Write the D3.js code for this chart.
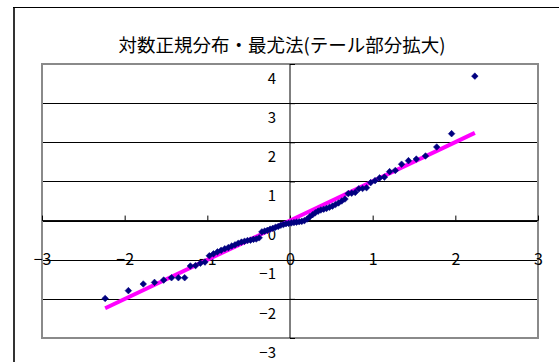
<!DOCTYPE html>
<html>
<head>
<meta charset="utf-8">
<script src="https://cdn.jsdelivr.net/npm/d3@7"></script>
<style>
  html, body { margin: 0; padding: 0; background: #fff; }
  svg { display: block; }
  text { font-family: "Noto Sans CJK JP", "Noto Sans", sans-serif; fill: #000; }
</style>
</head>
<body>
<svg id="chart" width="559" height="362"></svg>
<script>
// Normal quantiles (theoretical) for each ordered observation
const quantileX = [
  -2.236, -1.955, -1.775, -1.639, -1.528, -1.433, -1.350, -1.274, -1.205, -1.142,
  -1.084, -1.029, -0.976, -0.926, -0.878, -0.833, -0.789, -0.746, -0.705, -0.665,
  -0.626, -0.587, -0.550, -0.514, -0.478, -0.442, -0.408, -0.373, -0.340, -0.306,
  -0.273, -0.240, -0.208, -0.175, -0.143, -0.111, -0.079, -0.048, -0.016,
   0.016,  0.048,  0.079,  0.111,  0.143,  0.175,  0.208,  0.240,  0.273,  0.306,
   0.340,  0.373,  0.408,  0.442,  0.478,  0.514,  0.550,  0.587,  0.626,  0.665,
   0.705,  0.746,  0.789,  0.833,  0.878,  0.926,  0.976,  1.029,  1.084,  1.142,
   1.205,  1.274,  1.350,  1.433,  1.528,  1.639,  1.775,  1.955,  2.236
];
// Standardised log observations, sorted
const sampleY = [
  -1.99, -1.79, -1.62, -1.58, -1.52, -1.46, -1.46, -1.46, -1.16, -1.15,
  -1.09, -1.06, -0.90, -0.85, -0.80, -0.76, -0.72, -0.69, -0.65, -0.62,
  -0.58, -0.55, -0.53, -0.51, -0.50, -0.48, -0.47, -0.44, -0.29, -0.27,
  -0.25, -0.22, -0.20, -0.17, -0.15, -0.12, -0.10, -0.08, -0.07,
  -0.06, -0.05, -0.04, -0.03, -0.02,  0.00,  0.04,  0.10,  0.15,  0.20,
   0.24,  0.27,  0.29,  0.31,  0.34,  0.37,  0.41,  0.45,  0.50,  0.55,
   0.69,  0.70,  0.72,  0.81,  0.82,  0.84,  0.97,  1.02,  1.09,  1.11,
   1.25,  1.28,  1.44,  1.53,  1.57,  1.65,  1.88,  2.22,  3.69
];
// Fitted reference line (maximum likelihood)
const fitX = [-2.236, 2.236];
const fitY = [-2.24, 2.24];

const xTicks = [-3, -2, -1, 0, 1, 2, 3];
const yTicks = [-3, -2, -1, 0, 1, 2, 3, 4];
const titleText = "対数正規分布・最尤法(テール部分拡大)";

const svg = d3.select("#chart");
const plot = { left: 42, right: 538, top: 64, bottom: 338 };

const x = d3.scaleLinear().domain([-3, 3]).range([plot.left, plot.right]);
const y = d3.scaleLinear().domain([-3, 4]).range([plot.bottom, plot.top]);
const fmt = d3.format("d");

// Outer chart frame (left and top edges)
svg.append("line").attr("x1", 14).attr("x2", 14).attr("y1", 7).attr("y2", 362)
  .attr("stroke", "#333").attr("stroke-width", 2);
svg.append("line").attr("x1", 13).attr("x2", 559).attr("y1", 7.5).attr("y2", 7.5)
  .attr("stroke", "#000").attr("stroke-width", 1);

// Title
svg.append("text")
  .attr("x", 282).attr("y", 52)
  .attr("text-anchor", "middle")
  .attr("font-size", 18.5)
  .text(titleText);

// Horizontal gridlines
svg.append("g")
  .attr("transform", `translate(${plot.left},0)`)
  .call(d3.axisRight(y).tickValues(yTicks).tickSize(plot.right - plot.left).tickFormat(""))
  .call(g => g.select(".domain").remove())
  .call(g => g.selectAll(".tick line").attr("stroke", "#000").attr("stroke-width", 1)
    .attr("shape-rendering", "crispEdges"));

// Plot area border
svg.append("rect")
  .attr("x", plot.left).attr("y", plot.top)
  .attr("width", plot.right - plot.left).attr("height", plot.bottom - plot.top)
  .attr("fill", "none").attr("stroke", "#8a8a8a").attr("stroke-width", 2);

// X axis through y = 0, tick marks pointing up
const xAxis = svg.append("g")
  .attr("transform", `translate(0,${y(0)})`)
  .call(d3.axisTop(x).tickValues(xTicks).tickSize(5).tickFormat(""));
xAxis.select(".domain").attr("stroke", "#000").attr("d", `M${plot.left},0H${plot.right}`);
xAxis.selectAll(".tick line").attr("stroke", "#000");

// X tick labels, set one band below the axis
svg.append("g")
  .attr("transform", `translate(0,${y(0)})`)
  .call(d3.axisBottom(x).tickValues(xTicks).tickSize(0).tickPadding(0).tickFormat(fmt))
  .call(g => g.select(".domain").remove())
  .call(g => g.selectAll(".tick text")
    .attr("y", y(-1) - y(0)).attr("dy", "0.35em")
    .attr("font-size", 16).attr("font-family", "Noto Sans CJK JP, sans-serif")
    .attr("fill", "#000"));

// Y axis through x = 0, tick marks pointing right
const yAxis = svg.append("g")
  .attr("transform", `translate(${x(0)},0)`)
  .call(d3.axisRight(y).tickValues(yTicks).tickSize(5).tickFormat(""));
yAxis.select(".domain").attr("stroke", "#000").attr("d", `M0,${plot.top}V${plot.bottom}`);
yAxis.selectAll(".tick line").attr("stroke", "#000");

// Y tick labels, right aligned left of the axis, set below each gridline
svg.append("g")
  .attr("transform", `translate(${x(0)},0)`)
  .call(d3.axisLeft(y).tickValues(yTicks).tickSize(0).tickPadding(14).tickFormat(fmt))
  .call(g => g.select(".domain").remove())
  .call(g => g.selectAll(".tick text")
    .attr("dy", "0.35em").attr("y", 14)
    .attr("font-size", 15).attr("font-family", "Noto Sans CJK JP, sans-serif")
    .attr("fill", "#000"));

// Fitted line
svg.append("path")
  .datum(d3.zip(fitX, fitY))
  .attr("fill", "none")
  .attr("stroke", "#ff00ff")
  .attr("stroke-width", 4)
  .attr("d", d3.line().x(d => x(d[0])).y(d => y(d[1])));

// Observations as diamond markers
const diamond = d3.symbol().type(d3.symbolSquare).size(22);
svg.append("g")
  .selectAll("path")
  .data(d3.zip(quantileX, sampleY))
  .join("path")
  .attr("d", diamond)
  .attr("transform", d => `translate(${x(d[0])},${y(d[1])}) rotate(45)`)
  .attr("fill", "#000080")
  .attr("stroke", "#000080")
  .attr("stroke-width", 0.5);
</script>
</body>
</html>
